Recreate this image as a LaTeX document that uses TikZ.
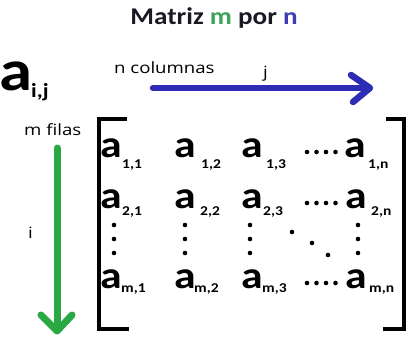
\documentclass[tikz,border=0pt]{standalone}
\usepackage{fontspec}
\newfontfamily\calfont[FakeStretch=1.15]{Carlito}
\newfontfamily\titlefont[FakeStretch=1.13]{Carlito}
\newfontfamily\osfont[FakeStretch=1.2]{Open Sans}
\definecolor{arrblue}{RGB}{44,44,180}
\definecolor{arrgreen}{RGB}{42,168,68}
\definecolor{titgreen}{RGB}{60,165,90}
\definecolor{titblue}{RGB}{60,60,180}
\definecolor{titblack}{RGB}{25,25,35}
\tikzset{
  ent/.style={inner sep=0pt, anchor=base west, font=\calfont\bfseries\fontsize{38}{38}\selectfont},
  subs/.style={inner sep=0pt, anchor=base west, font=\calfont\bfseries\fontsize{13.5}{13.5}\selectfont},
  lbl/.style={inner sep=0pt, anchor=base west, font=\osfont\fontsize{15.5}{15.5}\selectfont},
  bracket/.style={line width=4pt, line cap=rect, line join=miter},
  bluearrow/.style={line width=6.5pt, arrblue, line cap=round, line join=round},
  greenarrow/.style={line width=7pt, arrgreen, line cap=round, line join=round},
  dotfill/.style={fill=black}
}
\begin{document}
\begin{tikzpicture}[x=1pt,y=-1pt]
\useasboundingbox (0,0) rectangle (409,337);
% title
\node[inner sep=0pt, anchor=base, font=\titlefont\bfseries\fontsize{24}{24}\selectfont] (title) at (214,25)
  {\textcolor{titblack}{Matriz} \textcolor{titgreen}{m} \textcolor{titblack}{por} \textcolor{titblue}{n}};
% a_{i,j}
\node[inner sep=0pt, anchor=base west, font=\calfont\bfseries\fontsize{58}{58}\selectfont] (aij) at (-1,90) {a};
\node[inner sep=0pt, anchor=base west, font=\calfont\bfseries\fontsize{20}{20}\selectfont] (aijsub) at (31,97) {i,j};
% labels
\node[lbl] (ncol) at (114,73) {n columnas};
\node[lbl] (jlbl) at (263,77) {j};
\node[lbl] (mfil) at (24,135) {m filas};
\node[lbl] (ilbl) at (28,238) {i};
% arrows
\draw[bluearrow] (153,88) -- (368,88);
\draw[bluearrow] (351,75) -- (370,88) -- (353,102);
\draw[greenarrow] (57,148) -- (57,330);
\draw[greenarrow] (41,315) -- (57,331) -- (72,315);
% brackets
\draw[bracket] (125,119) -- (99,119) -- (99,329) -- (127,329);
\draw[bracket] (388,119) -- (404,119) -- (404,329) -- (385,329);
% row 1
\node[ent] (a11) at (100,157) {a}; \node[subs] (s11) at (122,168) {1,1};
\node[ent] (a12) at (174,157) {a}; \node[subs] (s12) at (201,168) {1,2};
\node[ent] (a13) at (241,157) {a}; \node[subs] (s13) at (266,168) {1,3};
\node[ent] (a1n) at (344,157) {a}; \node[subs] (s1n) at (368,168) {1,n};
% row 2
\node[ent] (a21) at (100,208) {a}; \node[subs] (s21) at (122,215) {2,1};
\node[ent] (a22) at (174,208) {a}; \node[subs] (s22) at (200,215) {2,2};
\node[ent] (a23) at (241,208) {a}; \node[subs] (s23) at (263,215) {2,3};
\node[ent] (a2n) at (345,208) {a}; \node[subs] (s2n) at (371,215) {2,n};
% row m
\node[ent] (am1) at (100,288) {a}; \node[subs] (sm1) at (121,292) {m,1};
\node[ent] (am2) at (174,288) {a}; \node[subs] (sm2) at (194,292) {m,2};
\node[ent] (am3) at (241,288) {a}; \node[subs] (sm3) at (262,292) {m,3};
\node[ent] (amn) at (345,288) {a}; \node[subs] (smn) at (369,292) {m,n};
% horizontal dots
\foreach \yy in {152,203,283} {
  \foreach \xx in {307,316.5,326,335.5} { \fill[dotfill] (\xx,\yy) circle (2.3pt); }
}
% vertical dots
\foreach \xx in {114,185,250,358} {
  \foreach \yy in {225,239,253} { \fill[dotfill] (\xx,\yy) circle (2.3pt); }
}
% diagonal dots
\fill[dotfill] (292,232) circle (2.3pt);
\fill[dotfill] (312,243) circle (2.3pt);
\fill[dotfill] (328,255) circle (2.3pt);
\end{tikzpicture}
\end{document}
